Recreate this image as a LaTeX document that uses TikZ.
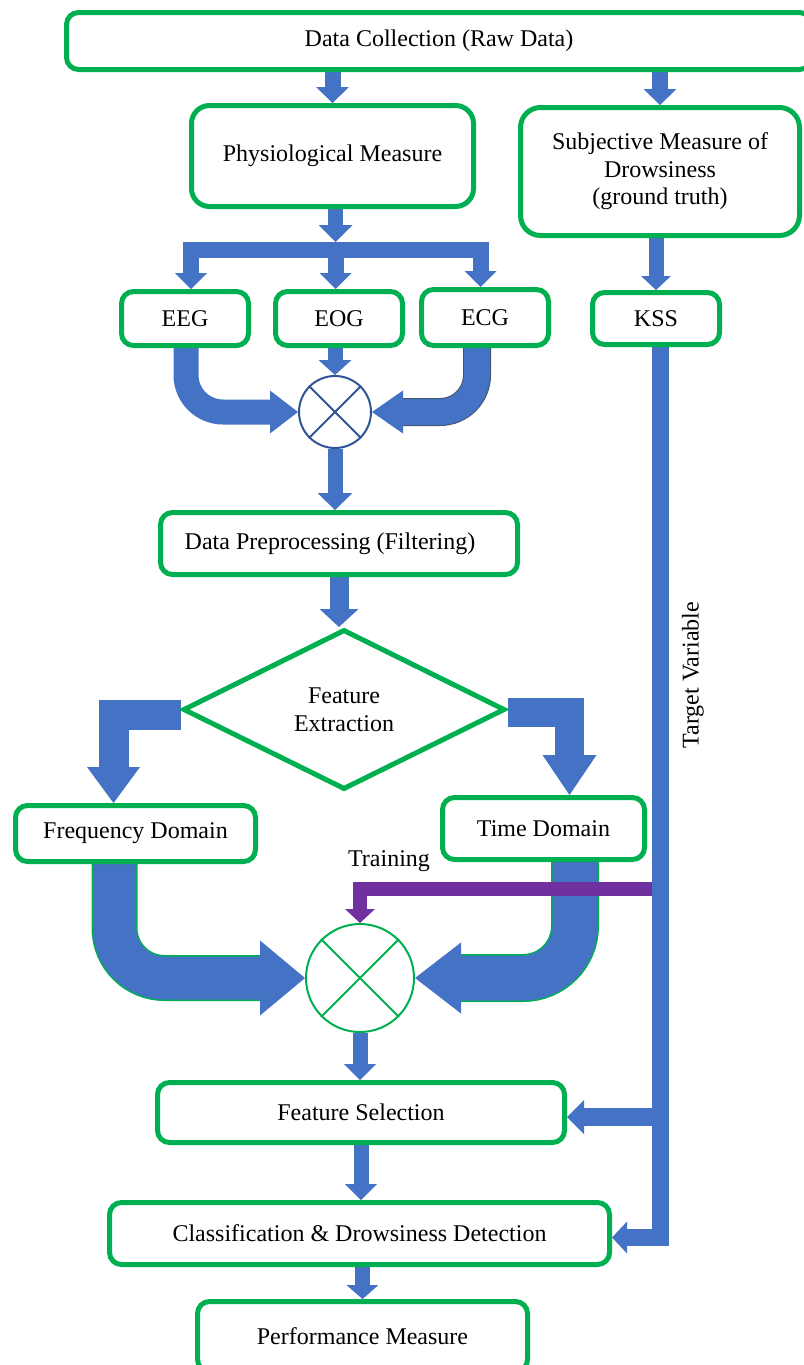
\documentclass[tikz,border=0pt]{standalone}
\usepackage{fontspec}
\setmainfont{Liberation Serif}
\usetikzlibrary{arrows.meta,shapes.geometric,backgrounds}
\definecolor{boxgreen}{HTML}{00B050}
\definecolor{pipeblue}{HTML}{4472C4}
\definecolor{trainpurple}{HTML}{7030A0}
\definecolor{ringblue}{HTML}{2F5597}
\definecolor{rimgray}{HTML}{44546A}

\begin{document}
\begin{tikzpicture}[x=1pt,y=-1pt,line join=miter,
  stage/.style={draw=boxgreen,line width=5pt,rounded corners=12pt,fill=white,
    align=center,inner sep=0pt,font=\fontsize{24}{27.6}\selectfont},
  tag/.style={inner sep=0pt,font=\fontsize{24}{27.6}\selectfont},
  pipe/.style n args={3}{draw=pipeblue,line width=#1,
    -{Triangle[width=#2,length=#3,line width=0pt]}},
  rim/.style n args={3}{draw=#1,line width=#2,shorten >=#3},
  mixer/.style={circle,draw=#1,line width=2pt,fill=white,inner sep=0pt}]
  \useasboundingbox (0,0) rectangle (803,1365);

  % boxes
  \node[stage,minimum width=745pt,minimum height=57pt] (collect) at (439,41)
    {Data Collection (Raw Data)};
  \node[stage,rounded corners=18pt,minimum width=282pt,minimum height=101pt] (phys)
    at (332.5,156) {Physiological Measure};
  \node[stage,rounded corners=20pt,minimum width=279pt,minimum height=128pt] (subj)
    at (660,171.5) {Subjective Measure of\\Drowsiness\\(ground truth)};
  \node[stage,minimum width=127pt,minimum height=54pt] (eeg) at (185,318.5) {EEG};
  \node[stage,minimum width=127pt,minimum height=54pt] (eog) at (339,318.5) {EOG};
  \node[stage,minimum width=127pt,minimum height=56pt] (ecg) at (485,317.5) {ECG};
  \node[stage,minimum width=127pt,minimum height=52pt] (kss) at (656,318.5) {KSS};
  \node[mixer=ringblue,minimum size=72pt] (mix1) at (335,412) {};
  \node[stage,minimum width=357pt,minimum height=62pt] (prep) at (339,543.5)
    {Data Preprocessing (Filtering)\hspace{18pt}};
  \node[stage,diamond,rounded corners=0pt,minimum width=322pt,minimum height=160pt]
    (feat) at (344,709.5) {Feature\\Extraction};
  \node[stage,minimum width=240pt,minimum height=56pt] (freq) at (135.5,833.5)
    {Frequency Domain};
  \node[stage,minimum width=202pt,minimum height=62pt] (time) at (543.5,828.5)
    {Time Domain};
  \node[mixer=boxgreen,minimum size=108pt] (mix2) at (360,978) {};
  \node[stage,minimum width=407pt,minimum height=60pt] (select) at (361,1112.5)
    {Feature Selection};
  \node[stage,minimum width=500pt,minimum height=62pt] (classify) at (359.5,1233.5)
    {Classification \& Drowsiness Detection};
  \node[stage,minimum width=330pt,minimum height=70pt] (perf) at (362.5,1336.5)
    {Performance Measure};

  \node[tag] (trainlbl) at (389,861) {Training};
  \node[tag,rotate=90] (targetlbl) at (693,675) {Target Variable};

  % crosses in the mixers
  \draw[ringblue,line width=2pt] (mix1.north west) -- (mix1.south east)
    (mix1.north east) -- (mix1.south west);
  \draw[boxgreen,line width=2pt] (mix2.north west) -- (mix2.south east)
    (mix2.north east) -- (mix2.south west);

  \begin{pgfonlayer}{background}
    \coordinate (split) at (335.5,249.5);
    \coordinate (trainfork) at (660,888.5);
    \coordinate (selfork) at (660,1117);

    \draw[pipe={16pt}{33pt}{16pt}] (phys.north |- collect.south) -- (phys.north);
    \draw[pipe={16pt}{33pt}{16pt}] (subj.north |- collect.south) -- (subj.north);
    \draw[pipe={15pt}{34pt}{17pt}] (phys.south -| split) -- ([yshift=7.5pt]split);
    \draw[pipe={16pt}{32pt}{16pt}] (split) -- (split |- eog.north);
    \draw[pipe={16pt}{32pt}{16pt}] (split) -| ([xshift=6pt]eeg.north);
    \draw[pipe={16pt}{32pt}{16pt}] (split) -| ([xshift=-4.5pt]ecg.north);
    \draw[pipe={15pt}{30pt}{14pt}] (kss.north |- subj.south) -- (kss.north);

    \draw[pipe={15pt}{33pt}{15pt}] (mix1.north |- eog.south) -- (mix1.north);
    \draw[pipe={25pt}{43pt}{28pt},rounded corners=37pt]
      ([xshift=1pt]eeg.south) |- (mix1.west);
    \draw[rim={rimgray}{28pt}{31pt},rounded corners=37pt]
      ([xshift=-8pt]ecg.south) |- (mix1.east);
    \draw[pipe={26pt}{43pt}{31pt},rounded corners=37pt]
      ([xshift=-8pt]ecg.south) |- (mix1.east);
    \draw[pipe={15pt}{35pt}{17pt}] (mix1.south) -- (mix1.south |- prep.north);
    \draw[pipe={19pt}{39pt}{18pt}] (prep.south) -- (prep.south |- feat.north);

    \draw[pipe={30pt}{53pt}{36pt}] ([yshift=-5pt]feat.west) -| ([xshift=-22pt]freq.north);
    \draw[pipe={29pt}{54pt}{40pt}] ([yshift=-3pt]feat.east) -| ([xshift=26pt]time.north);

    \draw[rim={boxgreen}{46pt}{44pt},rounded corners=50pt]
      ([xshift=-21pt]freq.south) |- (mix2.west);
    \draw[pipe={43pt}{75pt}{45pt},rounded corners=50pt]
      ([xshift=-21pt]freq.south) |- (mix2.west);
    \draw[rim={boxgreen}{48pt}{45pt},rounded corners=52pt]
      ([xshift=31.5pt]time.south) |- (mix2.east);
    \draw[pipe={45pt}{71pt}{46pt},rounded corners=52pt]
      ([xshift=31.5pt]time.south) |- (mix2.east);

    % training branch and target variable trunk
    \draw[pipe={14pt}{30pt}{14pt},draw=trainpurple] (trainfork) -| (mix2.north);
    \draw[pipe={17pt}{32pt}{15pt}] ([xshift=4pt]kss.south) |- ([yshift=-4pt]classify.east);
    \draw[pipe={18pt}{34pt}{17pt}] (selfork) -- (selfork -| select.east);

    \draw[pipe={15pt}{32pt}{16pt}] (mix2.south) -- (mix2.south |- select.north);
    \draw[pipe={15pt}{32pt}{16pt}] (select.south) -- (select.south |- classify.north);
    \draw[pipe={15pt}{32pt}{14pt}] (classify.south -| perf.north) -- (perf.north);
  \end{pgfonlayer}
\end{tikzpicture}
\end{document}
